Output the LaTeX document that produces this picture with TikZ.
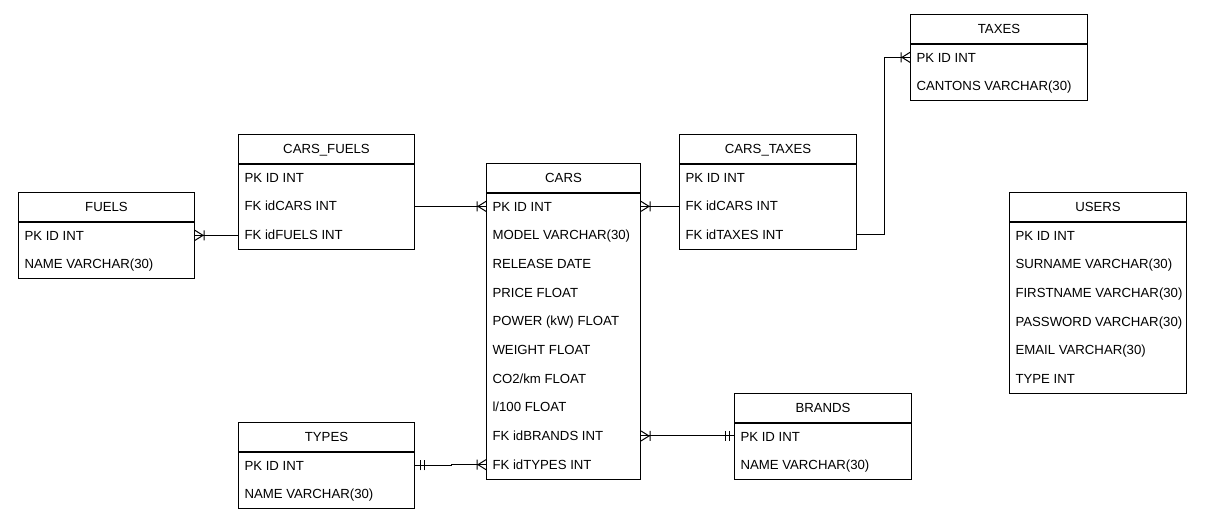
\documentclass[tikz,border=0pt]{standalone}
\usepackage{fontspec}
\setmainfont{Liberation Sans}
\usepackage{tikz}

% crow's foot (one or many) and double bar (one and only one)
\pgfdeclarearrow{
  name = crow,
  setup code = {
    \pgfarrowssettipend{0pt}
    \pgfarrowssetlineend{0pt}
    \pgfarrowssetbackend{-9pt}
    \pgfarrowshullpoint{0pt}{5pt}
    \pgfarrowshullpoint{0pt}{-5pt}
    \pgfarrowshullpoint{-9pt}{5pt}
    \pgfarrowshullpoint{-9pt}{-5pt}
  },
  drawing code = {
    \pgfsetdash{}{0pt}
    \pgfpathmoveto{\pgfqpoint{-8pt}{0pt}}
    \pgfpathlineto{\pgfqpoint{0pt}{5pt}}
    \pgfpathmoveto{\pgfqpoint{-8pt}{0pt}}
    \pgfpathlineto{\pgfqpoint{0pt}{-5pt}}
    \pgfpathmoveto{\pgfqpoint{-9pt}{5pt}}
    \pgfpathlineto{\pgfqpoint{-9pt}{-5pt}}
    \pgfusepathqstroke
  }
}
\pgfdeclarearrow{
  name = oneone,
  setup code = {
    \pgfarrowssettipend{0pt}
    \pgfarrowssetlineend{0pt}
    \pgfarrowssetbackend{-9pt}
    \pgfarrowshullpoint{0pt}{5pt}
    \pgfarrowshullpoint{0pt}{-5pt}
    \pgfarrowshullpoint{-9pt}{5pt}
    \pgfarrowshullpoint{-9pt}{-5pt}
  },
  drawing code = {
    \pgfsetdash{}{0pt}
    \pgfpathmoveto{\pgfqpoint{-5pt}{5pt}}
    \pgfpathlineto{\pgfqpoint{-5pt}{-5pt}}
    \pgfpathmoveto{\pgfqpoint{-9pt}{5pt}}
    \pgfpathlineto{\pgfqpoint{-9pt}{-5pt}}
    \pgfusepathqstroke
  }
}

\tikzstyle{Head}=[rectangle, draw=black, anchor=north west, inner sep=0, minimum height=29pt, text height=9.3pt, text depth=0pt, text centered, font=\fontsize{13.2}{15}\selectfont]
\tikzstyle{Row}=[anchor=west, inner sep=0, text height=9.3pt, text depth=0pt, font=\fontsize{13.2}{15}\selectfont]

% name, x, y, width, title, rows
\newcommand{\erTable}[6]{%
  \node[Head, minimum width=#4pt] (#1) at (#2,#3) {#5};
  \foreach \r [count=\i] in {#6}
    {\node[Row] (#1-\i) at (#2+6,#3+29+\i*28.7-14.35) {\r};
     \xdef\lastrow{\i}}
  \draw (#1.south west) rectangle (#2+#4,#3+29+\lastrow*28.7);
}

\begin{document}
\begin{tikzpicture}[x=1pt, y=-1pt, line width=1pt]
    \useasboundingbox (0,0) rectangle (1208,523);

    \erTable{taxes}{910}{14}{177}{TAXES}{PK ID INT, CANTONS VARCHAR(30)}
    \erTable{cfuels}{238}{134}{176}{CARS\_FUELS}{PK ID INT, FK idCARS INT, FK idFUELS INT}
    \erTable{ctaxes}{679}{134}{177}{CARS\_TAXES}{PK ID INT, FK idCARS INT, FK idTAXES INT}
    \erTable{cars}{486}{163}{154}{CARS}{PK ID INT, MODEL VARCHAR(30), RELEASE DATE, PRICE FLOAT, POWER (kW) FLOAT, WEIGHT FLOAT, CO2/km FLOAT, l/100 FLOAT, FK idBRANDS INT, FK idTYPES INT}
    \erTable{fuels}{18}{192}{176}{FUELS}{PK ID INT, NAME VARCHAR(30)}
    \erTable{users}{1009}{192}{177}{USERS}{PK ID INT, SURNAME VARCHAR(30), FIRSTNAME VARCHAR(30), PASSWORD VARCHAR(30), EMAIL VARCHAR(30), TYPE INT}
    \erTable{brands}{734}{393}{177}{BRANDS}{PK ID INT, NAME VARCHAR(30)}
    \erTable{types}{238}{422}{176}{TYPES}{PK ID INT, NAME VARCHAR(30)}

    \draw[-crow] (cars-1 -| cfuels.east) -- (cars-1 -| cars.west);
    \draw[crow-] (fuels-1 -| fuels.east) -- (fuels-1 -| cfuels.west);
    \draw[crow-] (cars-1 -| cars.east) -- (cars-1 -| ctaxes.west);
    \draw[-crow] (ctaxes-3 -| ctaxes.east) -- ++(27,0) |- (taxes-1 -| taxes.west);
    \draw[crow-oneone] (cars-9 -| cars.east) -- (cars-9 -| brands.west);
    \draw[oneone-crow] (types-1 -| types.east) -- ++(36,0) |- (cars-10 -| cars.west);
\end{tikzpicture}
\end{document}
